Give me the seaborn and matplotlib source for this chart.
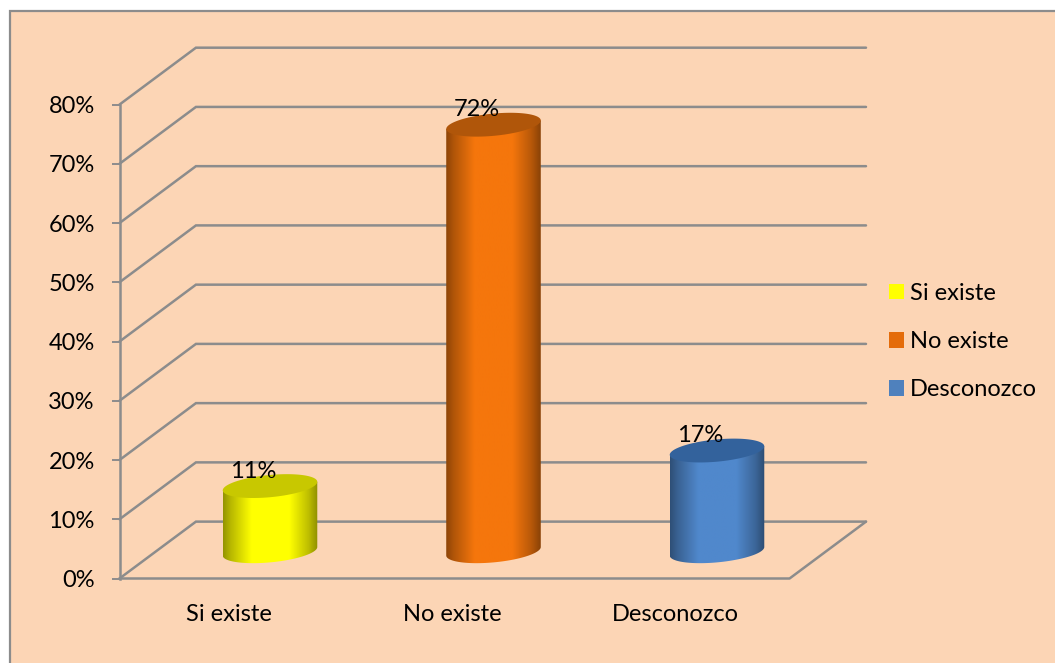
import numpy as np
import pandas as pd
import matplotlib
matplotlib.use("Agg")
import matplotlib.pyplot as plt
from matplotlib.colors import to_rgb
from matplotlib.patches import PathPatch, Polygon, Rectangle
from matplotlib.path import Path
import seaborn as sns

# Survey answers, in percent
categories = ["Si existe", "No existe", "Desconozco"]
values = [11, 72, 17]
y_ticks = [0, 10, 20, 30, 40, 50, 60, 70, 80]

# Colours: legend swatch, lit cylinder side, cylinder cap
legend_colors = ["#FFFF00", "#E46C0A", "#4F81BD"]
side_colors = ["#FFFF00", "#F5760C", "#5088CC"]
cap_colors = ["#C8C800", "#B0560A", "#33629C"]
panel_color = "#FCD5B5"
line_color = "#8C8C8C"

# Oblique depth of the chart box, in data units
depth_x = 0.342
depth_y = 9.6
bar_width = 0.423
# Half height of the cylinder ellipses, and the tilt of their long axis
cap_half = 1.88
cap_tilt = 0.72
label_size = 17

sns.set_theme(style="white")
plt.rcParams["font.family"] = ["Lato", "DejaVu Sans"]
plt.rcParams["font.size"] = label_size
plt.rcParams["text.color"] = "black"

W, H = 1055, 663
fig = plt.figure(figsize=(W / 100, H / 100), dpi=100, facecolor="white")
fig.add_artist(Rectangle((9.5 / W, 0 - 0.02), 1.02, 1.02 - 11.0 / H + 0.0,
                         transform=fig.transFigure, facecolor=panel_color,
                         edgecolor=line_color, linewidth=1.6, zorder=-1))

ax = fig.add_axes([119.5 / W, (H - 578.5) / H, (866 - 119.5) / W, (578.5 - 46.5) / H])
ax.patch.set_visible(False)

df = pd.DataFrame({"categoria": categories, "porcentaje": values})
sns.barplot(data=df, x="categoria", y="porcentaje", hue="categoria",
            order=categories, hue_order=categories, palette=legend_colors,
            saturation=1, width=bar_width, dodge=False, legend=True,
            ax=ax, zorder=3)

x_min, x_max = -150.5 / 223.5, 596 / 223.5
ax.set_xlim(x_min, x_max)
ax.set_ylim(0, 89.8)
back_left = x_min + depth_x
front_right = x_max - depth_x

# Side wall and back wall lines for each tick
for v in y_ticks:
    ax.plot([x_min, back_left, x_max], [v, v + depth_y, v + depth_y],
            color=line_color, lw=1.8, zorder=1, clip_on=False,
            solid_joinstyle="miter")
# Front and right edges of the floor
ax.plot([x_min, front_right, x_max], [0, 0, depth_y], color=line_color,
        lw=1.8, zorder=1, clip_on=False)


def ellipse_points(cx, cy, w, start, stop):
    """Outline of a cylinder end, tilted so its right side sits higher."""
    t = np.linspace(start, stop, 90)
    return np.column_stack([cx + w / 2 * np.cos(t),
                            cy + cap_half * np.sin(t) + cap_tilt * np.cos(t)])


# Shade every bar as a cylinder standing mid-way across the floor
floor = 4.6
shade_pos = np.array([0.0, 0.08, 0.30, 0.70, 0.90, 1.0])
shade_val = np.array([0.58, 0.72, 1.0, 1.0, 0.75, 0.56])
u = np.linspace(0, 1, 200)
shade = np.interp(u, shade_pos, shade_val)
bars = [p for c in ax.containers for p in c.patches if p.get_height() > 0]
bars.sort(key=lambda p: p.get_x())
for bar, side, cap in zip(bars, side_colors, cap_colors):
    bar.set_y(floor)
    x0, y0 = bar.get_x(), bar.get_y()
    w, h = bar.get_width(), bar.get_height()
    cx = x0 + w / 2
    top = y0 + h
    lower = ellipse_points(cx, y0, w, np.pi, 2 * np.pi)
    outline = np.vstack([lower, [x0 + w, top + cap_tilt], [x0, top - cap_tilt], lower[:1]])
    clip = PathPatch(Path(outline), transform=ax.transData, facecolor="none", edgecolor="none")
    ax.add_patch(clip)
    img = shade[None, :, None] * np.array(to_rgb(side))[None, None, :]
    im = ax.imshow(img, extent=(x0, x0 + w, y0 - 3, top + 3), origin="lower",
                   aspect="auto", zorder=4, interpolation="bilinear")
    im.set_clip_path(clip)
    bar.set_visible(False)
    ax.add_patch(Polygon(ellipse_points(cx, top, w, 0, 2 * np.pi), closed=True,
                         facecolor=cap, edgecolor="none", zorder=5))

ax.set_xlim(x_min, x_max)
ax.set_ylim(0, 89.8)

# Value labels sit on the cylinder caps
for i, v in enumerate(values):
    ax.text(i - 0.074, floor + v + 2.5, f"{v}%", ha="center", va="center",
            color="black", fontsize=label_size, zorder=6)

for name in ["top", "right", "bottom"]:
    ax.spines[name].set_visible(False)
ax.spines["left"].set_visible(True)
ax.spines["left"].set_bounds(0, 80)
ax.spines["left"].set_color(line_color)
ax.spines["left"].set_linewidth(1.8)

ax.set_yticks(y_ticks, [f"{v}%" for v in y_ticks])
ax.tick_params(axis="y", length=5.8, width=1.4, color=line_color, pad=12,
               labelsize=label_size, labelcolor="black", left=True)
ax.set_xticks(np.arange(len(categories)) - 0.185, categories)
ax.tick_params(axis="x", length=0, pad=18.5, labelsize=label_size, labelcolor="black")
ax.set_xlabel("")
ax.set_ylabel("")

sns.move_legend(ax, loc="center left", bbox_to_anchor=(888.5 / W, (H - 341.5) / H),
                bbox_transform=fig.transFigure, frameon=False, title=None,
                fontsize=label_size, handlelength=0.64, handleheight=0.64,
                handletextpad=0.26, labelspacing=1.15, borderpad=0, borderaxespad=0,
                labelcolor="black")
for handle in ax.get_legend().legend_handles:
    handle.set_edgecolor("none")

fig.savefig("out.png", dpi=100, facecolor="white")
